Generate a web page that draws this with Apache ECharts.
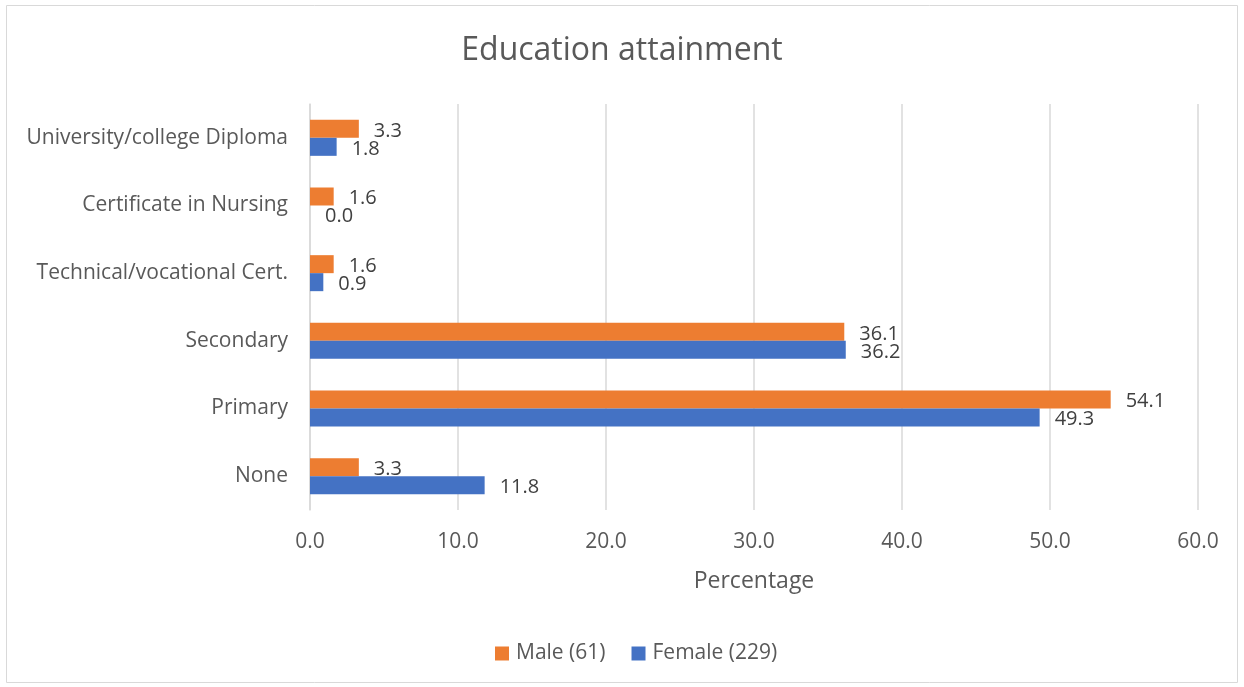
<!DOCTYPE html>
<html>
<head>
<meta charset="utf-8">
<script src="https://cdn.jsdelivr.net/npm/echarts@6/dist/echarts.min.js"></script>
<style>html,body{margin:0;padding:0;background:#fff;}#c{width:1244px;height:687px;}</style>
</head>
<body>
<div id="c"></div>
<script>
const categories = ['None', 'Primary', 'Secondary', 'Technical/vocational Cert.', 'Certificate in Nursing', 'University/college Diploma'];
const maleValues = [3.3, 54.1, 36.1, 1.6, 1.6, 3.3];
const femaleValues = [11.8, 49.3, 36.2, 0.9, 0.0, 1.8];
const xTicks = [0, 10, 20, 30, 40, 50, 60];

const FONT = '"Open Sans", "Noto Sans", sans-serif';
const chart = echarts.init(document.getElementById('c'));
const labelCfg = {
  show: true, position: 'right', distance: 15, offset: [0, 2],
  color: '#404040', fontSize: 20, fontFamily: FONT,
  formatter: p => p.value.toFixed(1)
};
chart.setOption({
  animation: false,
  textStyle: { fontFamily: FONT },
  graphic: [{
    type: 'rect', shape: { x: 6.5, y: 5.5, width: 1231, height: 677 },
    style: { fill: 'none', stroke: '#d9d9d9', lineWidth: 1 }, silent: true, z: -1
  }],
  title: {
    text: 'Education attainment', left: 'center', top: 30,
    textStyle: { color: '#595959', fontSize: 32, fontWeight: 'normal', fontFamily: FONT }
  },
  legend: {
    data: ['Male (61)', 'Female (229)'], bottom: 18, left: 490,
    itemWidth: 14, itemHeight: 14, itemGap: 26, icon: 'rect',
    textStyle: { color: '#595959', fontSize: 21, fontFamily: FONT, padding: [0, 0, 0, 2] }
  },
  grid: { left: 310, right: 46, top: 104, bottom: 177, containLabel: false },
  xAxis: {
    type: 'value', min: xTicks[0], max: xTicks[xTicks.length - 1], interval: 10,
    name: 'Percentage', nameLocation: 'middle', nameGap: 60,
    nameTextStyle: { color: '#595959', fontSize: 23, fontFamily: FONT },
    axisLine: { show: false }, axisTick: { show: false },
    axisLabel: { color: '#595959', fontSize: 21, margin: 22, formatter: v => v.toFixed(1) },
    splitLine: { lineStyle: { color: '#d9d9d9', width: 1.5 } }
  },
  yAxis: {
    type: 'category', data: categories,
    axisLine: { show: true, lineStyle: { color: '#d9d9d9', width: 1.5 } },
    axisTick: { show: false },
    axisLabel: { color: '#595959', fontSize: 21, margin: 22 }
  },
  series: [
    { name: 'Male (61)', type: 'bar', data: maleValues, barWidth: 18, barGap: '0%',
      itemStyle: { color: '#ed7d31' }, label: labelCfg },
    { name: 'Female (229)', type: 'bar', data: femaleValues, barWidth: 18, barGap: '0%',
      itemStyle: { color: '#4472c4' }, label: labelCfg }
  ]
});
</script>
</body>
</html>
